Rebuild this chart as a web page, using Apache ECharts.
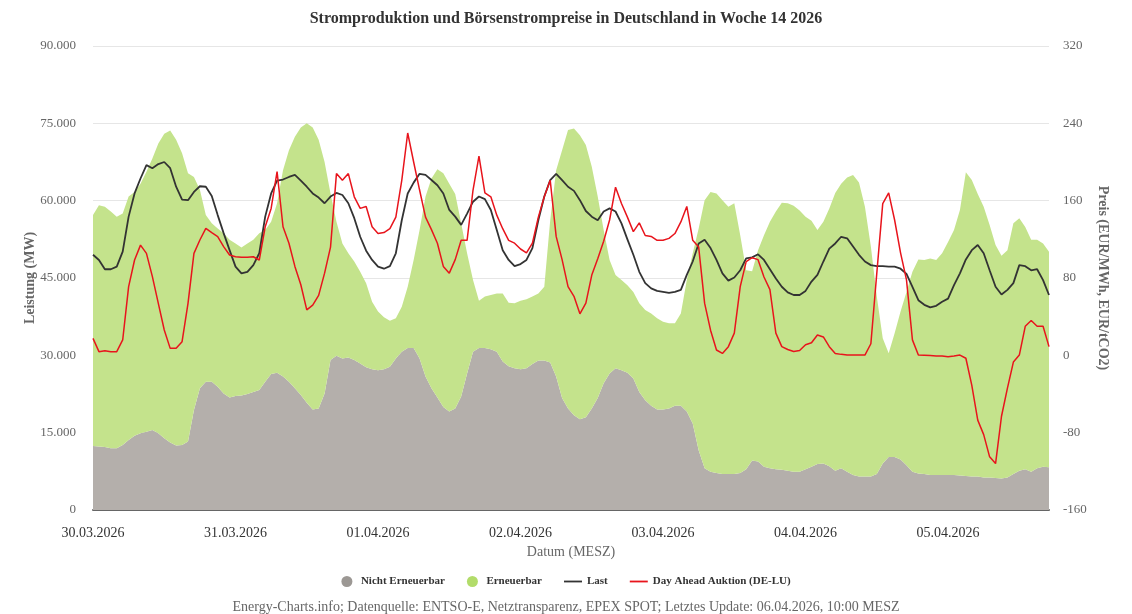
<!DOCTYPE html>
<html lang="de">
<head>
<meta charset="utf-8">
<title>Stromproduktion und Börsenstrompreise</title>
<script src="https://cdn.jsdelivr.net/npm/echarts@6/dist/echarts.min.js"></script>
<style>
  html, body { margin: 0; padding: 0; background: #fff; }
  #chart { width: 1132px; height: 614px; }
</style>
</head>
<body>
<div id="chart"></div>
<script>
// Tage der Woche (ein Label pro 24 Stunden)
var dayLabels = ['30.03.2026', '31.03.2026', '01.04.2026', '02.04.2026', '03.04.2026', '04.04.2026', '05.04.2026'];

// stündliche Werte in MW, ab 30.03.2026 00:00
var nichtErneuerbar = [12400,12300,12200,12000,12000,12600,13600,14400,14900,15200,15500,14900,13900,13100,12500,12600,13300,19400,23600,24900,24900,23900,22600,21800,22100,22200,22500,22900,
  23300,24900,26400,26600,25900,24900,23600,22300,20800,19500,19700,22600,29100,29900,29400,29600,29100,28400,27700,27300,27100,27300,27800,29400,30700,31400,31400,
  29400,25900,23600,21800,20000,19100,19700,22000,26500,30700,31400,31400,31200,30700,28800,27900,27500,27300,27500,28300,29000,29000,28600,25900,21700,19700,
  18400,17600,18000,19700,21700,24600,26500,27500,27100,26600,25500,22900,21300,20200,19500,19500,19700,20200,20200,19100,16800,11600,8100,7400,7200,7000,7000,
  7000,7200,7900,9600,9400,8400,8100,7900,7800,7600,7400,7400,7900,8400,8900,9000,8500,7600,8100,7400,6800,6500,6500,6500,7000,9000,10300,
  10300,9800,8700,7400,7100,7000,6800,6800,6800,6800,6800,6700,6600,6500,6500,6300,6300,6200,6100,6300,7000,7600,7900,7400,8100,8400,8300];

var erneuerbar = [44800,46800,46600,45900,44900,44900,47200,47300,48400,50400,52700,56200,59100,60500,59300,56600,52000,45200,38500,32300,30700,30700,31100,30600,29600,28700,29200,29500,
  30400,29400,29500,32900,40000,44900,48800,51900,54200,54700,52100,44900,32300,26000,22300,20200,19100,17800,16300,13100,11400,10100,8900,7800,8700,11900,17100,
  24900,34900,40700,44300,45300,44200,41600,33600,23300,13900,9200,10000,10500,11300,13200,12300,12600,13300,13400,13100,13000,14300,27600,40000,48100,54000,
  55600,55100,52800,46900,39100,29700,22000,18100,17500,17000,16800,17200,17500,17900,17700,17000,16500,16000,17900,25500,33000,43000,52000,54300,54200,53100,51800,
  52500,46100,38600,36700,41000,44900,47800,50000,51800,51900,51600,50700,49000,47700,45400,46900,50000,53900,55200,57100,58200,57000,52300,44600,34400,24300,20100,
  24000,28700,33600,38800,41500,41500,42000,41700,43000,45200,47500,51500,58900,57500,54800,52500,49000,45200,43200,44100,48600,49000,47000,45000,44300,43300,41800];

var last = [49500,48500,46700,46700,47200,50100,56900,61400,64300,66900,66300,67100,67500,66300,62700,60200,60100,61700,62800,62700,60900,57200,53700,50400,47200,45900,46200,47500,
  49800,56900,61400,63900,64100,64600,65000,63900,62700,61400,60600,59500,60800,61500,61100,59500,56600,53000,50300,48500,47200,46800,47300,49800,56200,61400,63500,
  65200,65000,64000,63000,61400,58200,56900,55300,57500,59800,60800,60300,58200,54300,50400,48500,47300,47700,48500,50800,56200,60800,64000,65200,64000,62700,
  61900,60100,58000,56900,56200,57900,58500,57900,55600,52500,49500,46200,44000,43000,42500,42300,42100,42300,42700,45600,48200,51700,52400,50800,48500,45900,44500,
  45100,46500,48800,49000,49600,48500,46700,44900,43300,42200,41700,41700,42500,44300,45600,48200,50700,51700,53000,52700,51100,49500,48200,47500,47300,47300,47200,
  47200,46800,45800,43300,40700,39800,39300,39600,40400,41000,43600,45900,48600,50400,51400,49800,46500,43300,41800,42700,44000,47500,47300,46500,46700,44600,41700];

// EUR/MWh
var dayAhead = [17.6,3.8,4.8,3.8,3.8,15.9,71,98.6,114,105.5,81.4,53.8,26.2,7.2,7.2,14.1,53.8,105.5,119.3,131.4,126.9,122.8,112.4,103.8,102,101.4,101.4,102,
  98.6,133,152,190,133,116,92,73,47,52,62,85,112,188,181,188,164,152,154,133,126,127,131,143,181,230,200,
  171,143,130,116,92,85,99,119,119,171,206,168,164,145,131,119,116,110,106,116,143,164,181,123,99,71,
  61,43,54,83,100,118,140,174,157,143,128,137,124,123,119,119,121,126,138,154,119,112,54,26,5.5,2,9,
  23,71,97,101,99,81,68,23,9,6,4,5,11,13,21,19,9,2,1,0.3,0.3,0.3,0.3,12,85,157,168,
  140,106,78,16,0.3,0,-0.3,-0.7,-0.7,-1.4,-0.7,0.3,-3,-31,-67,-82,-105,-112,-63,-34,-7,0.3,30,36,30,30,9];

var categories = [];
for (var h = 0; h < last.length; h++) {
  var hh = h % 24;
  categories.push(dayLabels[Math.floor(h / 24)] + ' ' + (hh < 10 ? '0' + hh : hh) + ':00');
}

var font = '"Liberation Serif", "Times New Roman", serif';
var grau = '#b4afab';
var gruen = '#c4e38c';
var rot = '#e8141c';
var linie = 'path://M0,0 H20 V2 H0 Z';

function tausender(v) {
  return String(v).replace(/\B(?=(\d{3})+(?!\d))/g, '.');
}

var chart = echarts.init(document.getElementById('chart'));

chart.setOption({
  animation: false,
  textStyle: { fontFamily: font },
  title: [{
    text: 'Stromproduktion und Börsenstrompreise in Deutschland in Woche 14 2026',
    left: 'center',
    top: 6,
    textStyle: { fontFamily: font, fontSize: 16, fontWeight: 'bold', color: '#333' }
  }, {
    text: 'Energy-Charts.info; Datenquelle: ENTSO-E, Netztransparenz, EPEX SPOT; Letztes Update: 06.04.2026, 10:00 MESZ',
    left: 'center',
    top: 595,
    textStyle: { fontFamily: font, fontSize: 14, fontWeight: 'normal', color: '#666' }
  }],
  legend: {
    top: 571,
    left: 'center',
    itemWidth: 18,
    itemHeight: 11,
    itemGap: 22,
    symbolKeepAspect: true,
    textStyle: { fontFamily: font, fontSize: 11, fontWeight: 'bold', color: '#333' },
    data: [
      { name: 'Nicht Erneuerbar', icon: 'circle', itemStyle: { color: '#9c9894' } },
      { name: 'Erneuerbar', icon: 'circle', itemStyle: { color: '#b2dc6a' } },
      { name: 'Last', icon: linie, itemStyle: { color: '#333' } },
      { name: 'Day Ahead Auktion (DE-LU)', icon: linie, itemStyle: { color: rot } }
    ]
  },
  grid: { left: 93, right: 83, top: 46, bottom: 104 },
  xAxis: {
    type: 'category',
    boundaryGap: false,
    data: categories,
    axisLine: { lineStyle: { color: '#666', width: 2 } },
    axisTick: { show: false },
    axisLabel: {
      interval: function (i) { return i % 24 === 0; },
      formatter: function (v) { return v.split(' ')[0]; },
      color: '#333',
      fontSize: 14,
      fontFamily: font,
      margin: 16
    },
    name: 'Datum (MESZ)',
    nameLocation: 'middle',
    nameGap: 34,
    nameTextStyle: { color: '#666', fontSize: 14, fontFamily: font }
  },
  yAxis: [{
    type: 'value',
    min: 0,
    max: 90000,
    interval: 15000,
    axisLine: { show: false },
    axisTick: { show: false },
    axisLabel: { formatter: tausender, color: '#666', fontSize: 13, fontFamily: font, margin: 17 },
    splitLine: { lineStyle: { color: '#e6e6e6' } },
    name: 'Leistung (MW)',
    nameLocation: 'middle',
    nameMoveOverlap: false,
    nameGap: 56,
    nameTextStyle: { color: '#666', fontSize: 14, fontWeight: 'bold', fontFamily: font }
  }, {
    type: 'value',
    position: 'right',
    min: -160,
    max: 320,
    interval: 80,
    axisLine: { show: false },
    axisTick: { show: false },
    axisLabel: { color: '#666', fontSize: 13, fontFamily: font, margin: 14 },
    splitLine: { show: false },
    name: 'Preis (EUR/MWh, EUR/tCO2)',
    nameLocation: 'middle',
    nameMoveOverlap: false,
    nameRotate: -90,
    nameGap: 47,
    nameTextStyle: { color: '#666', fontSize: 14, fontWeight: 'bold', fontFamily: font }
  }],
  series: [{
    name: 'Nicht Erneuerbar',
    type: 'line',
    stack: 'produktion',
    data: nichtErneuerbar,
    symbol: 'none',
    color: grau,
    lineStyle: { width: 0 },
    areaStyle: { color: grau, opacity: 1 }
  }, {
    name: 'Erneuerbar',
    type: 'line',
    stack: 'produktion',
    data: erneuerbar,
    symbol: 'none',
    color: gruen,
    lineStyle: { width: 0 },
    areaStyle: { color: gruen, opacity: 1 }
  }, {
    name: 'Last',
    type: 'line',
    data: last,
    symbol: 'none',
    color: '#333',
    lineStyle: { width: 1.8, color: '#333' }
  }, {
    name: 'Day Ahead Auktion (DE-LU)',
    type: 'line',
    yAxisIndex: 1,
    data: dayAhead,
    symbol: 'none',
    color: rot,
    lineStyle: { width: 1.5, color: rot }
  }]
});
</script>
</body>
</html>
